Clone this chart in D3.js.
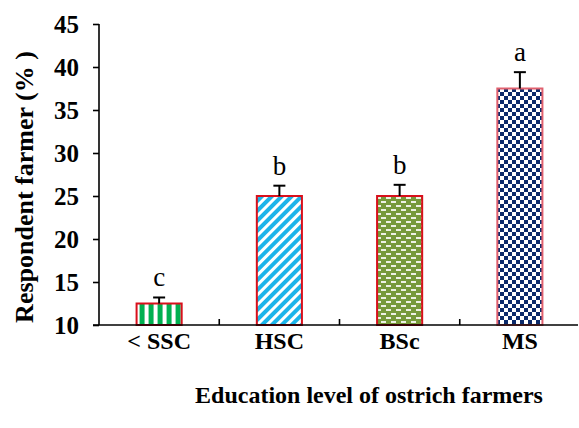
<!DOCTYPE html>
<html>
<head>
<meta charset="utf-8">
<script src="https://cdn.jsdelivr.net/npm/d3@7"></script>
<style>
  html, body { margin: 0; padding: 0; background: #fff; }
  svg { display: block; }
  text { font-family: "Liberation Serif", "Times New Roman", serif; }
</style>
</head>
<body>
<svg id="chart" width="579" height="428"></svg>
<script>
// Education level of ostrich farmers (% of respondents)
const categories = ["< SSC", "HSC", "BSc", "MS"];
const values = [12.5, 25, 25, 37.5];
const errors = [0.7, 1.2, 1.3, 1.9];
const letters = ["c", "b", "b", "a"];
const yTicks = [10, 15, 20, 25, 30, 35, 40, 45];
const patternIds = ["pVert", "pDiag", "pDash", "pCheck"];

const svg = d3.select("#chart");
const plot = { left: 99, right: 580, top: 24, bottom: 325 };

const x = d3.scaleBand().domain(categories).range([plot.left, plot.right])
  .paddingInner(0.625).paddingOuter(0.3125);
const y = d3.scaleLinear().domain([10, 45]).range([plot.bottom, plot.top]);

// fill patterns
const defs = svg.append("defs");
// vertical green stripes
const p1 = defs.append("pattern").attr("id", "pVert").attr("patternUnits", "userSpaceOnUse")
  .attr("width", 9).attr("height", 9).attr("x", x(categories[0]) + 3);
p1.append("rect").attr("width", 9).attr("height", 9).attr("fill", "#fff");
p1.append("rect").attr("width", 5).attr("height", 9).attr("fill", "#00b050");
// diagonal light-blue stripes
const p2 = defs.append("pattern").attr("id", "pDiag").attr("patternUnits", "userSpaceOnUse")
  .attr("width", 7).attr("height", 7).attr("patternTransform", "rotate(45)");
p2.append("rect").attr("width", 7).attr("height", 7).attr("fill", "#fff");
p2.append("rect").attr("width", 4).attr("height", 7).attr("fill", "#1cb4ea");
// olive with white dashes
const p3 = defs.append("pattern").attr("id", "pDash").attr("patternUnits", "userSpaceOnUse")
  .attr("width", 10).attr("height", 8);
p3.append("rect").attr("width", 10).attr("height", 8).attr("fill", "#779a3a");
p3.append("rect").attr("x", 1).attr("y", 1).attr("width", 5).attr("height", 2).attr("fill", "#eef2e4");
p3.append("rect").attr("x", 6).attr("y", 5).attr("width", 5).attr("height", 2).attr("fill", "#eef2e4");
p3.append("rect").attr("x", -4).attr("y", 5).attr("width", 5).attr("height", 2).attr("fill", "#eef2e4");
// navy checks
const p4 = defs.append("pattern").attr("id", "pCheck").attr("patternUnits", "userSpaceOnUse")
  .attr("width", 8).attr("height", 8);
p4.append("rect").attr("width", 8).attr("height", 8).attr("fill", "#fff");
p4.append("rect").attr("width", 4).attr("height", 4).attr("fill", "#0b2a6a");
p4.append("rect").attr("x", 4).attr("y", 4).attr("width", 4).attr("height", 4).attr("fill", "#0b2a6a");

// bars
const bars = svg.append("g");
bars.selectAll("rect").data(categories).join("rect")
  .attr("x", d => x(d))
  .attr("y", (d, i) => y(values[i]))
  .attr("width", x.bandwidth())
  .attr("height", (d, i) => y(10) - y(values[i]))
  .attr("fill", (d, i) => `url(#${patternIds[i]})`)
  .attr("stroke", (d, i) => i === 3 ? "#e0606e" : "#d8101c")
  .attr("stroke-width", 2);

// error bars
const eb = svg.append("g").attr("stroke", "#000").attr("stroke-width", 2);
categories.forEach((c, i) => {
  const cx = x(c) + x.bandwidth() / 2;
  eb.append("line").attr("x1", cx).attr("x2", cx)
    .attr("y1", y(values[i])).attr("y2", y(values[i] + errors[i]));
  eb.append("line").attr("x1", cx - 6).attr("x2", cx + 6)
    .attr("y1", y(values[i] + errors[i])).attr("y2", y(values[i] + errors[i]));
});

// significance letters
svg.append("g").selectAll("text").data(categories).join("text")
  .attr("x", d => x(d) + x.bandwidth() / 2)
  .attr("y", (d, i) => y(values[i] + errors[i]) - 11)
  .attr("text-anchor", "middle")
  .attr("font-size", 27)
  .attr("fill", "#000")
  .text((d, i) => letters[i]);

// y axis
const yAxis = svg.append("g").attr("transform", `translate(${plot.left},0)`)
  .call(d3.axisLeft(y).tickValues(yTicks).tickSize(6).tickPadding(14));
yAxis.attr("font-family", null);
yAxis.select(".domain").attr("stroke-width", 1.6).attr("d", `M0,${plot.top}V${plot.bottom}`);
yAxis.selectAll(".tick line").attr("stroke-width", 1.6);
yAxis.selectAll(".tick text").attr("font-size", 25).attr("font-weight", "bold")
  .attr("fill", "#000");

// x axis (ticks at category boundaries, pointing inward)
const xAxisG = svg.append("g").attr("transform", `translate(0,${plot.bottom})`);
xAxisG.append("line").attr("x1", plot.left - 6).attr("x2", plot.right - 2)
  .attr("stroke", "#000").attr("stroke-width", 1.6);
const boundaries = categories.map(c => x(c) - x.step() * x.paddingInner() / 2);
xAxisG.selectAll("line.tk").data(boundaries.slice(1)).join("line").attr("class", "tk")
  .attr("x1", d => d).attr("x2", d => d).attr("y1", 0).attr("y2", -6)
  .attr("stroke", "#000").attr("stroke-width", 1.6);
xAxisG.selectAll("text").data(categories).join("text")
  .attr("x", d => x(d) + x.bandwidth() / 2)
  .attr("y", 24)
  .attr("text-anchor", "middle")
  .attr("font-size", 24).attr("font-weight", "bold")
  .text(d => d);

// axis titles
svg.append("text").attr("x", 369).attr("y", 403)
  .attr("text-anchor", "middle").attr("font-size", 24).attr("font-weight", "bold")
  .text("Education level of ostrich farmers");
svg.append("text").attr("transform", "translate(33,187) rotate(-90)")
  .attr("text-anchor", "middle").attr("font-size", 26).attr("font-weight", "bold")
  .text("Respondent farmer (% )");
</script>
</body>
</html>
